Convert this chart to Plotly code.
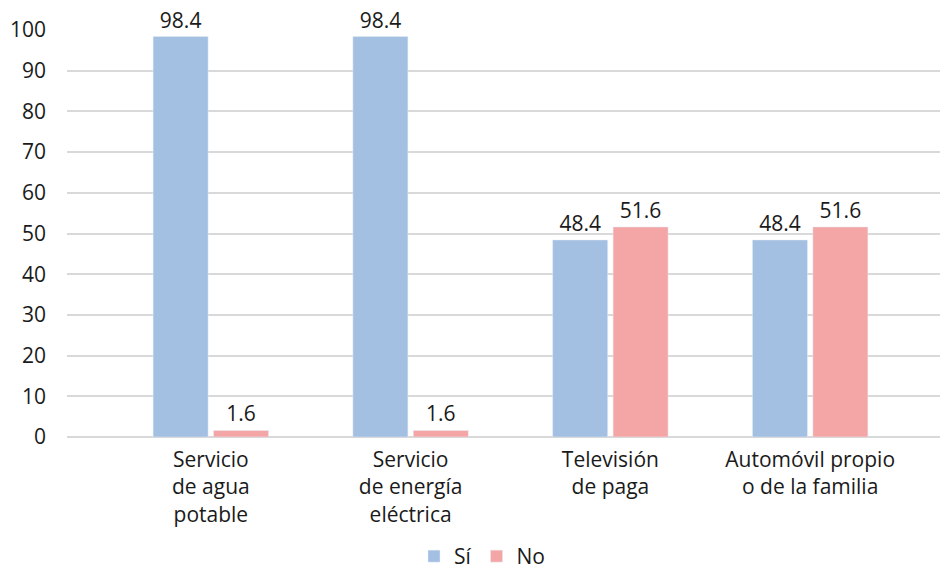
import plotly.graph_objects as go

categories = ["Servicio<br>de agua<br>potable", "Servicio<br>de energía<br>eléctrica",
              "Televisión<br>de paga", "Automóvil propio<br>o de la familia"]
si_values = [98.4, 98.4, 48.4, 48.4]
no_values = [1.6, 1.6, 51.6, 51.6]
y_ticks = [0, 10, 20, 30, 40, 50, 60, 70, 80, 90, 100]

FONT = "Open Sans"
FS = 21
fig = go.Figure()
fig.add_trace(go.Bar(name="Sí", x=categories, y=si_values, marker_color="#A3BFE1",
                     text=[f"{v:.1f}" for v in si_values], textposition="outside",
                     textfont=dict(size=FS, color="#1a1a1a"), cliponaxis=False))
fig.add_trace(go.Bar(name="No", x=categories, y=no_values, marker_color="#F4A6A6",
                     text=[f"{v:.1f}" for v in no_values], textposition="outside",
                     textfont=dict(size=FS, color="#1a1a1a"), cliponaxis=False))

fig.update_layout(
    width=948, height=569,
    margin=dict(l=59, r=8, t=22, b=140, autoexpand=False),
    plot_bgcolor="white", paper_bgcolor="white",
    font=dict(family=FONT, size=FS, color="#1a1a1a"),
    barmode="group", bargap=0.395, bargroupgap=0.09,
    xaxis=dict(range=[-0.72, 3.69], showgrid=False, zeroline=False, showline=False,
               ticks="", tickfont=dict(size=FS), automargin=False, ticklabelstandoff=8),
    yaxis=dict(range=[0, 100], tickvals=y_ticks, showgrid=True, gridcolor="#D9D9D9",
               gridwidth=1.5, zeroline=True, zerolinecolor="#D9D9D9", zerolinewidth=1.5,
               showline=False, ticks="", ticklabelstandoff=20, tickfont=dict(size=FS),
               automargin=False),
    legend=dict(orientation="h", xref="container", x=0.5, xanchor="center",
                yref="container", y=0.0, yanchor="bottom", font=dict(size=FS),
                itemwidth=30),
    uniformtext=dict(minsize=FS, mode="show"),
)
fig.write_html("out.html")
